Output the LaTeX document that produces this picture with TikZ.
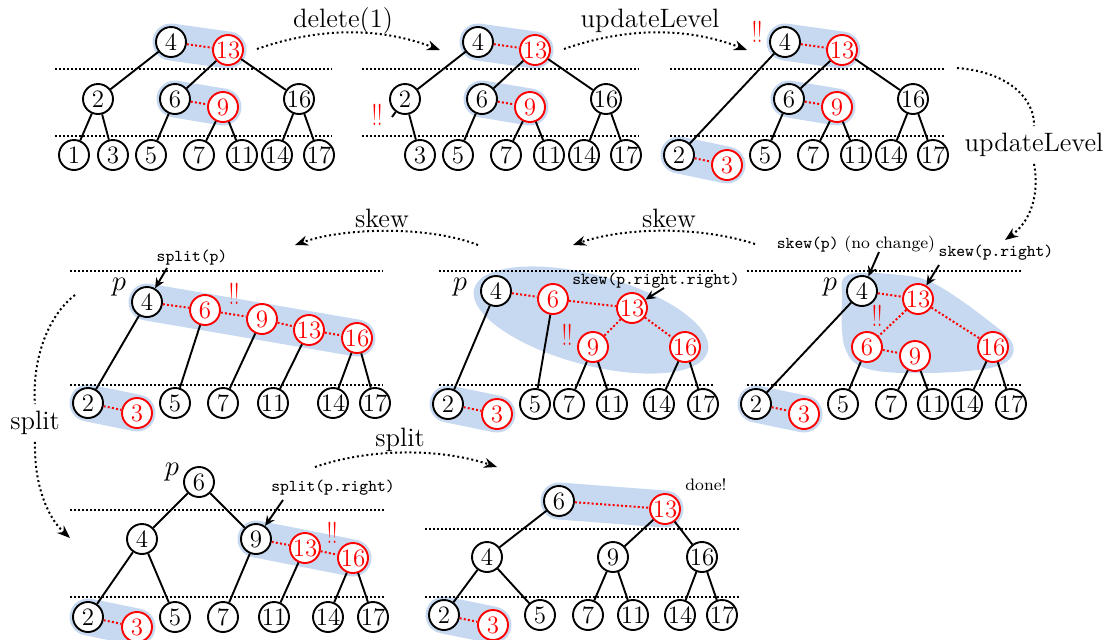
\documentclass[tikz,border=0pt]{standalone}
\usetikzlibrary{arrows.meta,backgrounds}
\definecolor{hlblue}{RGB}{198,217,240}
\begin{document}
\begin{tikzpicture}[x=0.5pt,y=-0.5pt,
 nd/.style={circle,draw,line width=0.95pt,minimum size=15pt,inner sep=0pt,fill=white,font=\fontsize{12.5}{12.5}\selectfont},
 rd/.style={nd,draw=red,text=red},
 ed/.style={line width=0.95pt},
 rl/.style={red,line width=1pt,dash pattern=on 1pt off 1.1pt},
 lvl/.style={line width=1pt,dash pattern=on 1pt off 1pt},
 band/.style={hlblue,line width=18.5pt,line cap=round},
 dotl/.style={line width=1pt,dash pattern=on 1pt off 1.4pt},
 flow/.style={dotl,-{Stealth[length=6.5pt,width=5pt]}},
 ptr/.style={line width=0.95pt,-{Stealth[length=5pt,width=4.5pt]}},
 big/.style={font=\fontsize{13.3}{15}\selectfont},
 small/.style={font=\fontsize{8.3}{10}\selectfont},
 tt/.style={font=\fontsize{8.3}{10}\selectfont\ttfamily},
 bang/.style={text=red,font=\fontsize{15}{17}\selectfont,inner sep=0pt},
 pl/.style={font=\fontsize{14.5}{16}\selectfont,inner sep=0pt},
]
\useasboundingbox (0,0) rectangle (1110,639);

% ---------------- Panel A ----------------
\node[nd] (a4) at (171,42) {4};
\node[rd] (a13) at (228,50) {13};
\node[nd] (a2) at (98,99) {2};
\node[nd] (a6) at (175,99) {6};
\node[rd] (a9) at (223,107) {9};
\node[nd] (a16) at (299,99) {16};
\node[nd] (a1) at (74,155) {1};
\node[nd] (a3) at (113,155) {3};
\node[nd] (a5) at (151,155) {5};
\node[nd] (a7) at (199,155) {7};
\node[nd] (a11) at (242,155) {11};
\node[nd] (a14) at (277,155) {14};
\node[nd] (a17) at (319,155) {17};
\coordinate (aL1) at (55,69); \coordinate (aR1) at (332,69);
\coordinate (aL2) at (55,136); \coordinate (aR2) at (332,136);
\draw[lvl] (aL1) -- (aR1); \draw[lvl] (aL2) -- (aR2);
\draw[ed] (a4)--(a2) (a13)--(a6) (a13)--(a16) (a2)--(a1) (a2)--(a3) (a6)--(a5) (a9)--(a7) (a9)--(a11) (a16)--(a14) (a16)--(a17);
\draw[rl] (a4)--(a13) (a6)--(a9);
\begin{scope}[on background layer]
\draw[band] (a4.center)--(a13.center); \draw[band] (a6.center)--(a9.center);
\end{scope}

% ---------------- Panel B ----------------
\node[nd] (b4) at (478,42) {4};
\node[rd] (b13) at (535,50) {13};
\node[nd] (b2) at (405,99) {2};
\node[nd] (b6) at (482,99) {6};
\node[rd] (b9) at (530,107) {9};
\node[nd] (b16) at (606,99) {16};
\node[nd] (b3) at (420,155) {3};
\node[nd] (b5) at (458,155) {5};
\node[nd] (b7) at (506,155) {7};
\node[nd] (b11) at (549,155) {11};
\node[nd] (b14) at (584,155) {14};
\node[nd] (b17) at (626,155) {17};
\coordinate (bx) at (392,117);
\coordinate (bL1) at (362,69); \coordinate (bR1) at (639,69);
\coordinate (bL2) at (362,136); \coordinate (bR2) at (639,136);
\draw[lvl] (bL1) -- (bR1); \draw[lvl] (bL2) -- (bR2);
\draw[ed] (b4)--(b2) (b13)--(b6) (b13)--(b16) (b2)--(bx) (b2)--(b3) (b6)--(b5) (b9)--(b7) (b9)--(b11) (b16)--(b14) (b16)--(b17);
\draw[rl] (b4)--(b13) (b6)--(b9);
\node[bang] (bb) at (377,115) {\scalebox{0.7}[1]{!!}};
\begin{scope}[on background layer]
\draw[band] (b4.center)--(b13.center); \draw[band] (b6.center)--(b9.center);
\end{scope}

% ---------------- Panel C ----------------
\node[nd] (c4) at (785,42) {4};
\node[rd] (c13) at (842,50) {13};
\node[nd] (c6) at (789,99) {6};
\node[rd] (c9) at (837,107) {9};
\node[nd] (c16) at (913,99) {16};
\node[nd] (c2) at (679,155) {2};
\node[rd] (c3) at (727,165) {3};
\node[nd] (c5) at (765,155) {5};
\node[nd] (c7) at (813,155) {7};
\node[nd] (c11) at (856,155) {11};
\node[nd] (c14) at (891,155) {14};
\node[nd] (c17) at (933,155) {17};
\coordinate (cL1) at (670,69); \coordinate (cR1) at (946,69);
\coordinate (cL2) at (670,136); \coordinate (cR2) at (946,136);
\draw[lvl] (cL1) -- (cR1); \draw[lvl] (cL2) -- (cR2);
\draw[ed] (c4)--(c2) (c13)--(c6) (c13)--(c16) (c6)--(c5) (c9)--(c7) (c9)--(c11) (c16)--(c14) (c16)--(c17);
\draw[rl] (c4)--(c13) (c6)--(c9) (c2)--(c3);
\node[bang] (cb) at (757,32) {\scalebox{0.7}[1]{!!}};
\begin{scope}[on background layer]
\draw[band] (c4.center)--(c13.center); \draw[band] (c6.center)--(c9.center); \draw[band] (c2.center)--(c3.center);
\end{scope}

% ---------------- Panel D ----------------
\node[nd] (d4) at (147,302) {4};
\node[rd] (d6) at (205,310) {6};
\node[rd] (d9) at (262,319) {9};
\node[rd] (d13) at (309,330) {13};
\node[rd] (d16) at (357,338) {16};
\node[nd] (d2) at (88,403) {2};
\node[rd] (d3) at (137,413) {3};
\node[nd] (d5) at (175,403) {5};
\node[nd] (d7) at (223,403) {7};
\node[nd] (d11) at (273,403) {11};
\node[nd] (d14) at (333,403) {14};
\node[nd] (d17) at (375,403) {17};
\coordinate (dL1) at (70,271); \coordinate (dR1) at (383,271);
\coordinate (dL2) at (70,385); \coordinate (dR2) at (383,385);
\draw[lvl] (dL1) -- (dR1); \draw[lvl] (dL2) -- (dR2);
\draw[ed] (d4)--(d2) (d6)--(d5) (d9)--(d7) (d13)--(d11) (d16)--(d14) (d16)--(d17);
\draw[rl] (d4)--(d6) (d6)--(d9) (d9)--(d13) (d13)--(d16) (d2)--(d3);
\node[bang] (db) at (234,294) {\scalebox{0.7}[1]{!!}};
\node[pl] (dp) at (119,287) {$p$};
\node[tt] (dlab) at (192,258) {split(p)};
\coordinate (dq) at (167,268);
\draw[ptr] (dq) -- (d4);
\begin{scope}[on background layer]
\draw[band] (d4.center)--(d16.center); \draw[band] (d2.center)--(d3.center);
\end{scope}

% ---------------- Panel E ----------------
\node[nd] (e4) at (496,291) {4};
\node[rd] (e6) at (553,299) {6};
\node[rd] (e13) at (632,308) {13};
\node[rd] (e9) at (593,347) {9};
\node[rd] (e16) at (685,347) {16};
\node[nd] (e2) at (448,404) {2};
\node[rd] (e3) at (497,414) {3};
\node[nd] (e5) at (535,404) {5};
\node[nd] (e7) at (569,404) {7};
\node[nd] (e11) at (612,404) {11};
\node[nd] (e14) at (659,404) {14};
\node[nd] (e17) at (703,404) {17};
\coordinate (eL1) at (439,271); \coordinate (eR1) at (715,271);
\coordinate (eL2) at (439,385); \coordinate (eR2) at (715,385);
\draw[lvl] (eL1) -- (eR1); \draw[lvl] (eL2) -- (eR2);
\draw[ed] (e4)--(e2) (e6)--(e5) (e9)--(e7) (e9)--(e11) (e16)--(e14) (e16)--(e17);
\draw[rl] (e4)--(e6) (e6)--(e13) (e13)--(e9) (e13)--(e16) (e2)--(e3);
\node[bang] (eb) at (567,335) {\scalebox{0.7}[1]{!!}};
\node[pl] (ep) at (460,287) {$p$};
\node[tt] (elab) at (656,281) {skew(p.right.right)};
\coordinate (eq) at (664,288);
\draw[ptr] (eq) -- (e13);
\begin{scope}[on background layer]
\fill[hlblue, rotate around={-15:(591,320)}] (591,320) ellipse [x radius=121, y radius=45];
\draw[band] (e2.center)--(e3.center);
\end{scope}

% ---------------- Panel F ----------------
\node[nd] (f4) at (862,291) {4};
\node[rd] (f13) at (918,299) {13};
\node[rd] (f6) at (867,347) {6};
\node[rd] (f9) at (915,356) {9};
\node[rd] (f16) at (993,347) {16};
\node[nd] (f2) at (756,404) {2};
\node[rd] (f3) at (804,414) {3};
\node[nd] (f5) at (843,404) {5};
\node[nd] (f7) at (891,404) {7};
\node[nd] (f11) at (933,404) {11};
\node[nd] (f14) at (967,404) {14};
\node[nd] (f17) at (1011,404) {17};
\coordinate (fL1) at (747,271); \coordinate (fR1) at (1023,271);
\coordinate (fL2) at (747,385); \coordinate (fR2) at (1023,385);
\draw[lvl] (fL1) -- (fR1); \draw[lvl] (fL2) -- (fR2);
\draw[ed] (f4)--(f2) (f6)--(f5) (f9)--(f7) (f9)--(f11) (f16)--(f14) (f16)--(f17);
\draw[rl] (f4)--(f13) (f13)--(f6) (f6)--(f9) (f13)--(f16) (f2)--(f3);
\node[bang] (fb) at (877,316) {\scalebox{0.7}[1]{!!}};
\node[pl] (fp) at (830,287) {$p$};
\node[small] (flab) at (856,244) {\texttt{skew(p)} (no change)};
\node[tt] (flab2) at (996,253) {skew(p.right)};
\coordinate (fq) at (879,252);
\coordinate (fq2) at (939,265);
\draw[ptr] (fq) -- (f4);
\draw[ptr] (fq2) -- (f13);
\begin{scope}[on background layer]
\fill[hlblue] plot[smooth cycle, tension=0.6] coordinates {(848,275) (900,275) (935,284) (985,318) (1013,345) (998,366) (930,373) (868,369) (845,348) (842,300)};
\draw[band] (f2.center)--(f3.center);
\end{scope}

% ---------------- Panel G ----------------
\node[nd] (g6) at (199,482) {6};
\node[nd] (g4) at (142,539) {4};
\node[nd] (g9) at (256,539) {9};
\node[rd] (g13) at (305,548) {13};
\node[rd] (g16) at (353,558) {16};
\node[nd] (g2) at (88,617) {2};
\node[rd] (g3) at (137,627) {3};
\node[nd] (g5) at (175,617) {5};
\node[nd] (g7) at (223,617) {7};
\node[nd] (g11) at (274,617) {11};
\node[nd] (g14) at (328,617) {14};
\node[nd] (g17) at (373,617) {17};
\coordinate (gL1) at (70,510); \coordinate (gR1) at (385,510);
\coordinate (gL2) at (70,597); \coordinate (gR2) at (385,597);
\draw[lvl] (gL1) -- (gR1); \draw[lvl] (gL2) -- (gR2);
\draw[ed] (g6)--(g4) (g6)--(g9) (g4)--(g2) (g4)--(g5) (g9)--(g7) (g13)--(g11) (g16)--(g14) (g16)--(g17);
\draw[rl] (g9)--(g13) (g13)--(g16) (g2)--(g3);
\node[bang] (gb) at (332,533) {\scalebox{0.7}[1]{!!}};
\node[pl] (gp) at (172,472) {$p$};
\node[tt] (glab) at (333,488) {split(p.right)};
\coordinate (gq) at (283,500);
\draw[ptr] (gq) -- (g9);
\begin{scope}[on background layer]
\draw[band] (g9.center)--(g16.center); \draw[band] (g2.center)--(g3.center);
\end{scope}

% ---------------- Panel H ----------------
\node[nd] (h6) at (559,501) {6};
\node[rd] (h13) at (665,509) {13};
\node[nd] (h4) at (487,557) {4};
\node[nd] (h9) at (613,557) {9};
\node[nd] (h16) at (702,557) {16};
\node[nd] (h2) at (444,615) {2};
\node[rd] (h3) at (493,625) {3};
\node[nd] (h5) at (540,615) {5};
\node[nd] (h7) at (588,615) {7};
\node[nd] (h11) at (633,615) {11};
\node[nd] (h14) at (680,615) {14};
\node[nd] (h17) at (722,615) {17};
\coordinate (hL1) at (425,529); \coordinate (hR1) at (740,529);
\coordinate (hL2) at (425,597); \coordinate (hR2) at (740,597);
\draw[lvl] (hL1) -- (hR1); \draw[lvl] (hL2) -- (hR2);
\draw[ed] (h6)--(h4) (h13)--(h9) (h13)--(h16) (h4)--(h2) (h4)--(h5) (h9)--(h7) (h9)--(h11) (h16)--(h14) (h16)--(h17);
\draw[rl] (h6)--(h13) (h2)--(h3);
\node[small] (hdone) at (706,485) {done!};
\begin{scope}[on background layer]
\draw[band] (h6.center)--(h13.center); \draw[band] (h2.center)--(h3.center);
\end{scope}

% ---------------- Flow arrows ----------------
\node[big] (t1) at (343,21) {delete(1)};
\coordinate (s1) at (257,49); \coordinate (s2) at (440,50);
\draw[flow] (s1) .. controls (320,27) and (380,27) .. (s2);

\node[big] (t2) at (650,21) {updateLevel};
\coordinate (s3) at (564,49); \coordinate (s4) at (747,50);
\draw[flow] (s3) .. controls (627,27) and (687,27) .. (s4);

\node[big,fill=white] (t3) at (1034,145) {updateLevel};
\coordinate (s5) at (957,68); \coordinate (s6) at (1005,240);
\draw[dotl] (s5) .. controls (1010,72) and (1035,100) .. (t3.north);
\draw[flow] (t3.south) .. controls (1040,195) and (1030,222) .. (s6);

\node[big] (t4) at (669,218) {skew};
\coordinate (s7) at (755,244); \coordinate (s8) at (573,245);
\draw[flow] (s7) .. controls (700,226) and (625,227) .. (s8);

\node[big] (t5) at (382,218) {skew};
\coordinate (s9) at (478,245); \coordinate (s10) at (295,245);
\draw[flow] (s9) .. controls (430,226) and (345,227) .. (s10);

\node[big,fill=white] (t6) at (35,423) {split};
\coordinate (s11) at (75,295); \coordinate (s12) at (70,538);
\draw[dotl] (s11) .. controls (45,318) and (32,365) .. (t6.north);
\draw[flow] (t6.south) .. controls (34,480) and (45,515) .. (s12);

\node[big] (t7) at (400,440) {split};
\coordinate (s13) at (315,467); \coordinate (s14) at (497,467);
\draw[flow] (s13) .. controls (370,448) and (440,448) .. (s14);
\end{tikzpicture}
\end{document}
